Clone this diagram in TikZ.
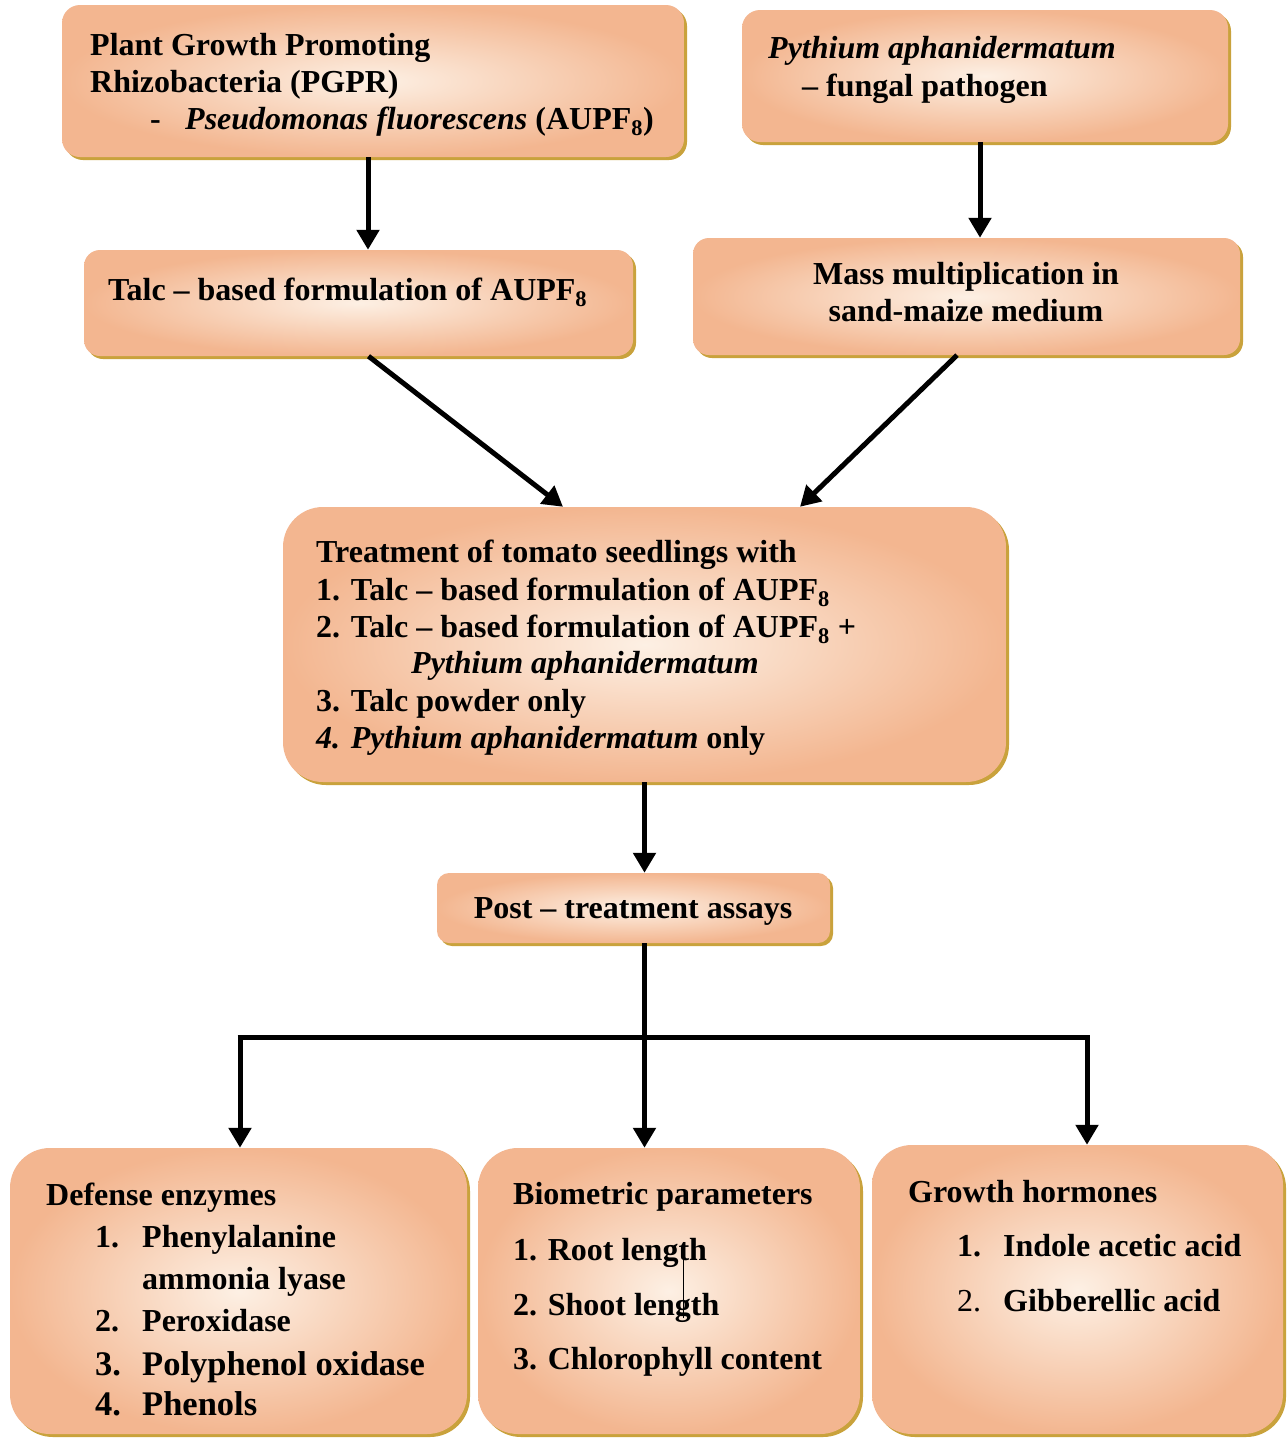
\documentclass[tikz,border=0pt]{standalone}
\usepackage{fontspec}
\setmainfont{Liberation Serif}
\usetikzlibrary{arrows.meta,shadows,calc}
\definecolor{peach}{HTML}{F3B690}
\definecolor{cream}{HTML}{FDF0E4}
\definecolor{goldsh}{HTML}{C9A23C}
\begin{document}
\begin{tikzpicture}[x=1pt,y=-1pt,
  box/.style={draw=none, inner sep=0pt, inner color=cream, outer color=peach,
    drop shadow={shadow xshift=3pt, shadow yshift=-3pt, fill=goldsh, opacity=1}},
  txt/.style={anchor=base west, inner sep=0pt, font=\fontsize{32}{38}\selectfont\bfseries},
  bigtxt/.style={txt, font=\fontsize{34.5}{40}\selectfont\bfseries},
  ctxt/.style={anchor=base, inner sep=0pt, font=\fontsize{32}{38}\selectfont\bfseries},
  arr/.style={line width=5pt, -{Triangle[length=20pt,width=22pt]}},
  ln/.style={line width=5pt}]
\useasboundingbox[fill=white] (0,0) rectangle (1288,1438);

% boxes
\node[box, rounded corners=18pt, minimum width=622pt, minimum height=152pt] (pgpr) at (373,81) {};
\node[box, rounded corners=18pt, minimum width=486pt, minimum height=132pt] (pyth) at (985,76) {};
\node[box, rounded corners=16pt, minimum width=549pt, minimum height=106pt] (talc) at (358.5,303) {};
\node[box, rounded corners=16pt, minimum width=547pt, minimum height=117pt] (mass) at (966.5,296.5) {};
\node[box, rounded corners=40pt, minimum width=723pt, minimum height=275pt] (treat) at (644.5,644.5) {};
\node[box, rounded corners=12pt, minimum width=393pt, minimum height=70pt] (post) at (633.5,908) {};
\node[box, rounded corners=40pt, minimum width=457pt, minimum height=286pt] (def) at (238.5,1291) {};
\node[box, rounded corners=40pt, minimum width=382pt, minimum height=286pt] (bio) at (669,1291) {};
\node[box, rounded corners=40pt, minimum width=411pt, minimum height=289pt] (grow) at (1077.5,1289.5) {};

% texts
\node[txt] (p1) at (90,55) {Plant Growth Promoting};
\node[txt] (p2) at (90,92) {Rhizobacteria (PGPR)};
\node[txt] (p3) at (150,129) {-};
\node[txt] (p4) at (185,129) {\textit{Pseudomonas fluorescens} (AUPF\textsubscript{8})};

\node[txt] (y1) at (768,58) {\textit{Pythium aphanidermatum}};
\node[txt] (y2) at (802,96) {– fungal pathogen};

\node[txt] (t1) at (108,300) {Talc – based formulation of AUPF\textsubscript{8}};

\node[ctxt] (m1) at (966,284) {Mass multiplication in};
\node[ctxt] (m2) at (966,321) {sand-maize medium};

\node[txt] (r1) at (316,562) {Treatment of tomato seedlings with};
\node[txt] (r2) at (316,600) {1. Talc – based formulation of AUPF\textsubscript{8}};
\node[txt] (r3) at (316,637) {2. Talc – based formulation of AUPF\textsubscript{8} +};
\node[txt] (r4) at (411,673) {\textit{Pythium aphanidermatum}};
\node[txt] (r5) at (316,711) {3. Talc powder only};
\node[txt] (r6) at (316,748) {\textit{4. Pythium aphanidermatum} only};

\node[ctxt] (s1) at (633,918) {Post – treatment assays};

\node[txt] (d0) at (46,1205) {Defense enzymes};
\node[txt] (d1n) at (95,1247) {1.};
\node[txt] (d1) at (142,1247) {Phenylalanine};
\node[txt] (d1b) at (142,1289) {ammonia lyase};
\node[txt] (d2n) at (95,1331) {2.};
\node[txt] (d2) at (142,1331) {Peroxidase};
\node[bigtxt] (d3n) at (95,1375) {3.};
\node[bigtxt] (d3) at (142,1375) {Polyphenol oxidase};
\node[bigtxt] (d4n) at (95,1415) {4.};
\node[bigtxt] (d4) at (142,1415) {Phenols};

\node[txt] (b0) at (513,1204) {Biometric parameters};
\node[txt] (b1) at (513,1260) {1. Root length};
\node[txt] (b2) at (513,1315) {2. Shoot length};
\node[txt] (b3) at (513,1369) {3. Chlorophyll content};
\draw[line width=0.8pt] (683,1254) -- (683,1318);

\node[txt] (g0) at (908,1202) {Growth hormones};
\node[txt] (g1n) at (957,1256) {1.};
\node[txt] (g1) at (1003,1256) {Indole acetic acid};
\node[txt, font=\fontsize{32}{38}\selectfont\mdseries] (g2n) at (957,1311) {2.};
\node[txt] (g2) at (1003,1311) {Gibberellic acid};

% connectors
\draw[arr] ([xshift=-5pt]pgpr.south) -- ([xshift=-5pt]pgpr.south |- talc.north);
\draw[arr] ([xshift=-5pt]pyth.south) -- ([xshift=-5pt]pyth.south |- mass.north);
\draw[arr] ([xshift=10pt]talc.south) -- ([xshift=-81.5pt]treat.north);
\draw[arr] ([xshift=-9.5pt]mass.south) -- ([xshift=155.5pt]treat.north);
\draw[arr] (treat.south) -- (treat.south |- post.north);
\coordinate (hub) at (644.5,1037);
\coordinate (hl) at (240,1037);
\coordinate (hr) at (1087,1037);
\draw[ln] (treat.south |- post.south) -- (hub);
\draw[ln] ([xshift=-2.5pt]hl) -- ([xshift=2.5pt]hr);
\draw[arr] (hub) -- (hub |- bio.north);
\draw[arr] (hl) -- (hl |- def.north);
\draw[arr] (hr) -- (hr |- grow.north);
\end{tikzpicture}
\end{document}
